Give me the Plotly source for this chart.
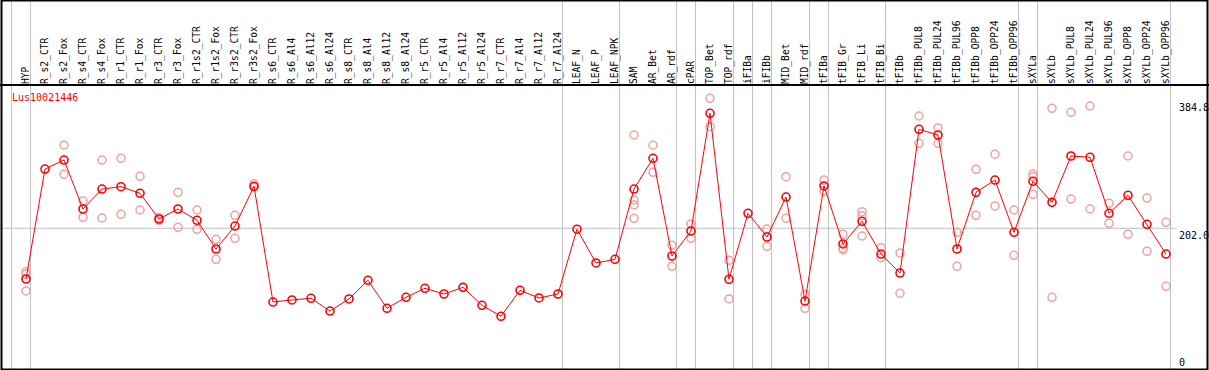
import plotly.graph_objects as go

gene = "Lus10021446"

categories = [
    "HYP", "R_s2_CTR", "R_s2_Fox", "R_s4_CTR", "R_s4_Fox", "R_r1_CTR", "R_r1_Fox",
    "R_r3_CTR", "R_r3_Fox", "R_r1s2_CTR", "R_r1s2_Fox", "R_r3s2_CTR", "R_r3s2_Fox",
    "R_s6_CTR", "R_s6_Al4", "R_s6_Al12", "R_s6_Al24", "R_s8_CTR", "R_s8_Al4",
    "R_s8_Al12", "R_s8_Al24", "R_r5_CTR", "R_r5_Al4", "R_r5_Al12", "R_r5_Al24",
    "R_r7_CTR", "R_r7_Al4", "R_r7_Al12", "R_r7_Al24", "LEAF_N", "LEAF_P", "LEAF_NPK",
    "SAM", "AR_Bet", "AR_rdf", "cPAR", "TOP_Bet", "TOP_rdf", "iFIBa", "iFIBb",
    "MID_Bet", "MID_rdf", "tFIBa", "tFIB_Gr", "tFIB_Li", "tFIB_Bi", "tFIBb",
    "tFIBb_PUL8", "tFIBb_PUL24", "tFIBb_PUL96", "tFIBb_OPP8", "tFIBb_OPP24",
    "tFIBb_OPP96", "sXYLa", "sXYLb", "sXYLb_PUL8", "sXYLb_PUL24", "sXYLb_PUL96",
    "sXYLb_OPP8", "sXYLb_OPP24", "sXYLb_OPP96",
]

# sizes of the sample groups separated by vertical grey lines
group_sizes = [1, 28, 3, 3, 1, 2, 1, 1, 2, 1, 3, 7, 1, 7]

mean_values = [
    125.4, 291.5, 305.1, 231.1, 261.3, 264.8, 254.8, 216.0, 231.1, 214.1,
    170.7, 205.4, 265.4, 90.6, 93.7, 96.2, 77.0, 95.2, 123.4, 81.1,
    97.7, 111.3, 102.7, 112.8, 85.7, 69.0, 108.3, 96.7, 102.7, 200.6,
    149.6, 155.1, 261.3, 307.7, 160.1, 197.9, 375.7, 124.9, 224.6, 188.8,
    249.2, 92.1, 265.9, 178.3, 212.5, 163.1, 134.4, 351.5, 342.9, 170.7,
    256.3, 274.9, 195.9, 273.0, 241.2, 311.2, 309.2, 224.6, 251.8, 208.0,
    163.1,
]

replicates = [
    [136.4, 132.9, 107.3], [], [327.8, 283.5], [243.2, 218.6], [305.1, 217.5],
    [307.7, 223.1], [280.5, 229.6], [218.0, 214.0], [256.3, 203.5], [229.6, 200.5],
    [185.4, 155.1], [221.6, 186.9], [269.3, 264.4], [], [], [], [], [], [], [],
    [], [], [], [], [], [], [], [], [], [],
    [], [], [342.9, 244.7, 237.2, 217.1], [327.4, 286.6], [176.3, 144.6],
    [208.5, 186.9], [398.3, 355.4], [153.6, 95.2], [], [200.9, 174.8],
    [279.9, 217.1], [102.3, 81.1], [274.9, 258.3], [192.9, 171.8, 169.6],
    [227.0, 221.0, 190.3], [172.7, 157.6], [164.7, 103.8], [371.6, 330.4],
    [353.5, 330.4], [195.9, 144.6], [291.1, 221.6], [313.8, 235.7], [229.6, 161.2],
    [284.0, 279.9, 253.3], [383.2, 97.7], [377.2, 246.2], [386.7, 231.1],
    [239.7, 209.5], [311.2, 192.9], [247.7, 167.2], [211.0, 114.4],
]

axis_labels = ["384.8", "202.0", "0"]
axis_values = [384.8, 202.0, 0.0]

W, H = 1209, 370
header_px = 85
x_first_px, x_step_px = 26, 19
px_per_unit = 0.662
zero_px = 362

x_idx = list(range(len(categories)))
rep_x, rep_y = [], []
for i, reps in enumerate(replicates):
    for v in reps:
        rep_x.append(i)
        rep_y.append(v)

fig = go.Figure()
fig.add_trace(go.Scatter(
    x=rep_x, y=rep_y, mode="markers", hoverinfo="skip",
    marker=dict(symbol="circle-open", size=8, color="#f2a0a0", line=dict(width=1.5, color="#f2a0a0")),
    showlegend=False,
))
fig.add_trace(go.Scatter(
    x=x_idx, y=mean_values, mode="lines+markers",
    line=dict(color="#ff0000", width=1),
    marker=dict(symbol="circle-open", size=8, color="#ff0000", line=dict(width=1.6, color="#ff0000")),
    showlegend=False,
))

x0 = -x_first_px / x_step_px
x1 = x0 + W / x_step_px
y_bottom = (zero_px - H) / px_per_unit
y_top = (zero_px - header_px) / px_per_unit

shapes = []
# vertical group separators
boundaries = [-1]
acc = -1
for g in group_sizes:
    acc += g
    boundaries.append(acc)
for b in boundaries:
    shapes.append(dict(type="line", xref="x", yref="paper", x0=b + 0.24, x1=b + 0.24,
                       y0=0, y1=1, line=dict(color="#c0c0c0", width=1), layer="below"))
# horizontal grid line at middle label
shapes.append(dict(type="line", xref="x", yref="y", x0=x0, x1=len(categories) - 0.45,
                   y0=axis_values[1], y1=axis_values[1],
                   line=dict(color="#c0c0c0", width=1), layer="below"))
# header separator
shapes.append(dict(type="line", xref="paper", yref="paper", x0=0, x1=1,
                   y0=1 - header_px / H, y1=1 - header_px / H, line=dict(color="black", width=2)))
# frame
shapes.append(dict(type="rect", xref="paper", yref="paper", x0=1.5 / W, x1=1207.5 / W,
                   y0=0.5 / H, y1=1 - 0.5 / H, line=dict(color="black", width=2)))

mono = "DejaVu Sans Mono"
annotations = [dict(xref="paper", yref="paper", x=10 / W, y=1 - 97 / H, text=gene,
                    showarrow=False, xanchor="left", yanchor="middle",
                    font=dict(family=mono, size=10, color="#ff0000"))]
for lab, val in zip(axis_labels, axis_values):
    annotations.append(dict(xref="paper", yref="y", x=1177 / W, y=val, text=lab,
                            showarrow=False, xanchor="left",
                            yanchor="top" if lab == "202.0" else "middle",
                            font=dict(family=mono, size=10, color="black")))

fig.update_layout(
    width=W, height=H, margin=dict(l=0, r=0, t=0, b=0),
    paper_bgcolor="white", plot_bgcolor="white",
    xaxis=dict(range=[x0, x1], tickmode="array", tickvals=x_idx, ticktext=categories,
               side="top", tickangle=-90, ticks="", showgrid=False, zeroline=False,
               showline=False, tickfont=dict(family=mono, size=9.6, color="black"),
               ticklabelstandoff=0),
    yaxis=dict(range=[y_bottom, y_top], domain=[0, 1 - header_px / H], showgrid=False,
               zeroline=False, showticklabels=False, showline=False),
    shapes=shapes, annotations=annotations,
)
fig.write_html("out.html", config={"displayModeBar": False},
               post_script="document.body.style.margin='0';document.body.style.overflow='hidden';")
